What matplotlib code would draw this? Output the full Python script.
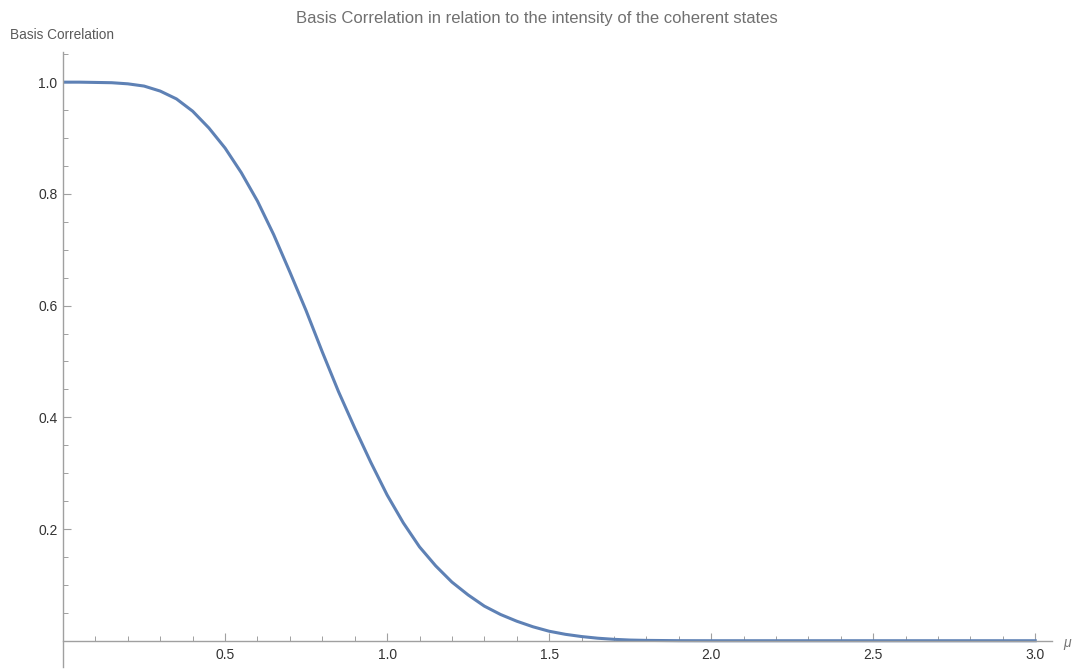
import matplotlib.pyplot as plt
from matplotlib.ticker import MultipleLocator, FixedLocator

# values
mu = [0.0, 0.05, 0.1, 0.15, 0.2, 0.25, 0.3, 0.35, 0.4, 0.45, 0.5, 0.55,
      0.6, 0.65, 0.7, 0.75, 0.8, 0.85, 0.9, 0.95, 1.0, 1.05, 1.1, 1.15,
      1.2, 1.25, 1.3, 1.35, 1.4, 1.45, 1.5, 1.55, 1.6, 1.65, 1.7, 1.75,
      1.8, 1.9, 2.0, 2.5, 3.0]
corr = [1.0, 1.0, 0.9995, 0.999, 0.997, 0.993, 0.984, 0.970, 0.948, 0.918,
        0.882, 0.838, 0.787, 0.727, 0.660, 0.591, 0.517, 0.446, 0.381,
        0.319, 0.261, 0.211, 0.168, 0.134, 0.105, 0.082, 0.062, 0.047,
        0.035, 0.025, 0.017, 0.0115, 0.0075, 0.0045, 0.0025, 0.0012,
        0.0006, 0.0001, 0.0, 0.0, 0.0]

x_ticks = [0.5, 1.0, 1.5, 2.0, 2.5, 3.0]
y_ticks = [0.2, 0.4, 0.6, 0.8, 1.0]

LINE = "#5e81b5"
AXIS = "#a0a0a0"
FONT = ["Liberation Sans", "DejaVu Sans"]

plt.rcParams["font.family"] = FONT

fig = plt.figure(figsize=(10.74, 6.70), dpi=100)
ax = fig.add_axes([0.0587, 0.0045, 0.9209, 0.9179])

ax.plot(mu, corr, color=LINE, lw=2.2, solid_joinstyle="round")

ax.set_xlim(0, 3.052)
ax.set_ylim(-0.047, 1.054)

for side in ["top", "right"]:
  ax.spines[side].set_visible(False)
ax.spines["left"].set_position(("data", 0))
ax.spines["bottom"].set_position(("data", 0))
for side in ["left", "bottom"]:
  ax.spines[side].set_color(AXIS)
  ax.spines[side].set_linewidth(1.0)

ax.xaxis.set_major_locator(FixedLocator(x_ticks))
ax.xaxis.set_minor_locator(MultipleLocator(0.1))
ax.yaxis.set_major_locator(FixedLocator(y_ticks))
ax.yaxis.set_minor_locator(MultipleLocator(0.05))
ax.set_xticklabels([f"{t:.1f}" for t in x_ticks])
ax.set_yticklabels([f"{t:.1f}" for t in y_ticks])

ax.tick_params(which="major", direction="in", length=6, width=0.8,
               color=AXIS, labelsize=10, labelcolor="#333333")
ax.tick_params(which="minor", direction="in", length=3.3, width=0.7,
               color=AXIS)
ax.tick_params(axis="x", pad=5)
ax.tick_params(axis="y", pad=4)

fig.text(0.5, 0.973, "Basis Correlation in relation to the intensity of the coherent states",
         ha="center", va="center", fontsize=12, color="#707070")
fig.text(0.009, 0.948, "Basis Correlation", ha="left", va="center",
         fontsize=9.8, color="#5a5a5a")
fig.text(0.994, 0.04, "μ", ha="center", va="center", fontsize=10,
         color="#777777", style="italic")

fig.savefig("out.png", dpi=100)
